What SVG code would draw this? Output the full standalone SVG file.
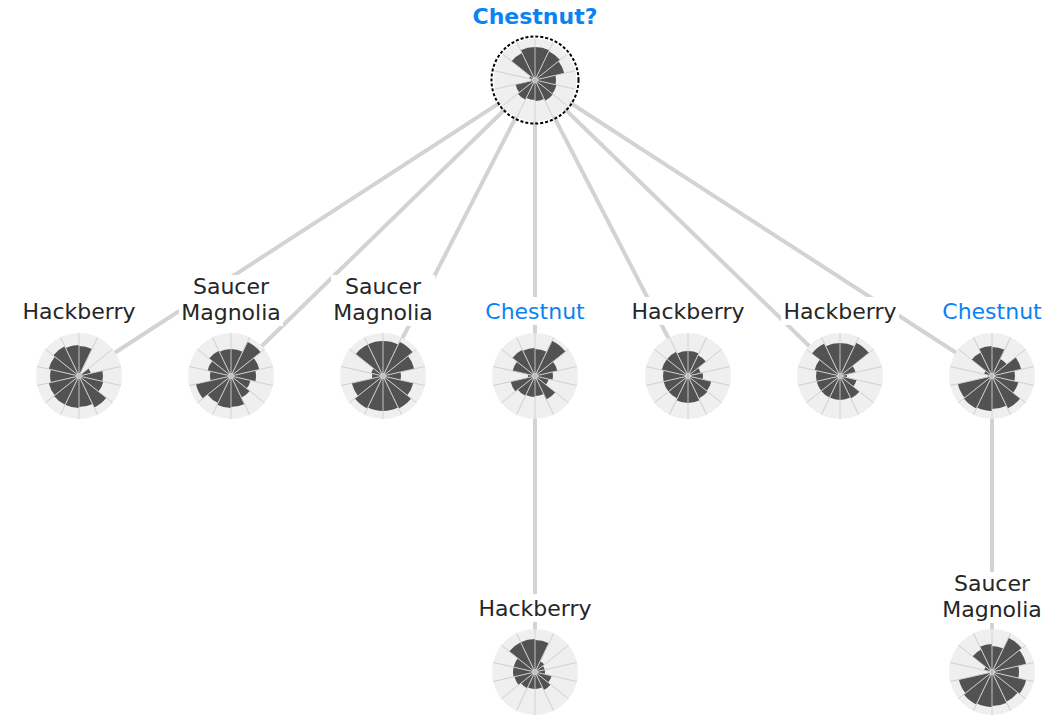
<svg xmlns="http://www.w3.org/2000/svg" xmlns:xlink="http://www.w3.org/1999/xlink" width="1049" height="726" viewBox="0 0 1049 726">
<style>
.lbl{font-family:"DejaVu Sans","Liberation Sans",sans-serif;font-size:22px;fill:#262626;text-anchor:middle}
.blue{fill:#0a82f5}
.bold{font-weight:bold}
.lb{fill:#ffffff}
.conn line{stroke:#d3d3d3;stroke-width:4;stroke-linecap:butt}
.bg{fill:#efefef}
.hub{fill:#bdbdbd;stroke:#d8d8d8;stroke-width:0.8}
.grid line{stroke:#cfcfcf;stroke-width:0.9}
.bar{fill:#525252}
.sel{fill:none;stroke:#000;stroke-width:2;stroke-dasharray:3 2}
</style>
<defs>
<path id="w" class="bar" d="M0,0 L0,-1 A1,1 0 0,1 0.43388,-0.90097 Z"/>
<g id="grid" class="grid">
<line x1="0" y1="-43" x2="0" y2="43"/>
<line x1="0" y1="-43" x2="0" y2="43" transform="rotate(25.714)"/>
<line x1="0" y1="-43" x2="0" y2="43" transform="rotate(51.429)"/>
<line x1="0" y1="-43" x2="0" y2="43" transform="rotate(77.143)"/>
<line x1="0" y1="-43" x2="0" y2="43" transform="rotate(102.857)"/>
<line x1="0" y1="-43" x2="0" y2="43" transform="rotate(128.571)"/>
<line x1="0" y1="-43" x2="0" y2="43" transform="rotate(154.286)"/>
</g>
</defs>
<rect width="1049" height="726" fill="#ffffff"/>
<g id="connectors" class="conn">
<line x1="535" y1="80" x2="79" y2="376"/>
<line x1="535" y1="80" x2="231" y2="376"/>
<line x1="535" y1="80" x2="383" y2="376"/>
<line x1="535" y1="80" x2="535" y2="376"/>
<line x1="535" y1="80" x2="688" y2="376"/>
<line x1="535" y1="80" x2="840" y2="376"/>
<line x1="535" y1="80" x2="992" y2="376"/>
<line x1="535" y1="376" x2="535" y2="672"/>
<line x1="992" y1="376" x2="992" y2="672"/>
</g>

<g id="node-root">
<text class="lbl blue bold" x="535" y="24">Chestnut?</text>
<g transform="translate(535,80)">
<circle class="bg" r="41.5"/>
<use xlink:href="#w" transform="rotate(0) scale(33)"/>
<use xlink:href="#w" transform="rotate(25.714) scale(32)"/>
<use xlink:href="#w" transform="rotate(51.429) scale(30)"/>
<use xlink:href="#w" transform="rotate(77.143) scale(21)"/>
<use xlink:href="#w" transform="rotate(102.857) scale(22)"/>
<use xlink:href="#w" transform="rotate(128.571) scale(23)"/>
<use xlink:href="#w" transform="rotate(154.286) scale(21)"/>
<use xlink:href="#w" transform="rotate(180) scale(20)"/>
<use xlink:href="#w" transform="rotate(205.714) scale(22)"/>
<use xlink:href="#w" transform="rotate(231.429) scale(20)"/>
<use xlink:href="#w" transform="rotate(257.143) scale(4)"/>
<use xlink:href="#w" transform="rotate(282.857) scale(6)"/>
<use xlink:href="#w" transform="rotate(308.571) scale(30)"/>
<use xlink:href="#w" transform="rotate(334.286) scale(33)"/>
<use xlink:href="#grid" transform="scale(0.965)"/>
<circle class="hub" r="2.5"/>
<circle class="sel" r="43.5"/>
</g>
</g>

<g id="node-hackberry-1">
<rect class="lb" x="20" y="297" width="118" height="28"/>
<text class="lbl" x="79" y="318.5">Hackberry</text>
<g transform="translate(79,376)">
<circle class="bg" r="43"/>
<use xlink:href="#w" transform="rotate(0) scale(30)"/>
<use xlink:href="#w" transform="rotate(25.714) scale(3)"/>
<use xlink:href="#w" transform="rotate(51.429) scale(12)"/>
<use xlink:href="#w" transform="rotate(77.143) scale(24)"/>
<use xlink:href="#w" transform="rotate(102.857) scale(25)"/>
<use xlink:href="#w" transform="rotate(128.571) scale(35)"/>
<use xlink:href="#w" transform="rotate(154.286) scale(31)"/>
<use xlink:href="#w" transform="rotate(180) scale(32)"/>
<use xlink:href="#w" transform="rotate(205.714) scale(32)"/>
<use xlink:href="#w" transform="rotate(231.429) scale(31)"/>
<use xlink:href="#w" transform="rotate(257.143) scale(29)"/>
<use xlink:href="#w" transform="rotate(282.857) scale(31)"/>
<use xlink:href="#w" transform="rotate(308.571) scale(33)"/>
<use xlink:href="#w" transform="rotate(334.286) scale(31)"/>
<use xlink:href="#grid"/>
<circle class="hub" r="2.5"/>
</g>
</g>

<g id="node-saucer-magnolia-1">
<rect class="lb" x="179" y="275" width="104" height="51"/>
<text class="lbl" x="231" y="293.5">Saucer</text>
<text class="lbl" x="231" y="319.5">Magnolia</text>
<g transform="translate(231,376)">
<circle class="bg" r="43"/>
<use xlink:href="#w" transform="rotate(0) scale(27)"/>
<use xlink:href="#w" transform="rotate(25.714) scale(38)"/>
<use xlink:href="#w" transform="rotate(51.429) scale(29)"/>
<use xlink:href="#w" transform="rotate(77.143) scale(25)"/>
<use xlink:href="#w" transform="rotate(102.857) scale(20)"/>
<use xlink:href="#w" transform="rotate(128.571) scale(24)"/>
<use xlink:href="#w" transform="rotate(154.286) scale(31)"/>
<use xlink:href="#w" transform="rotate(180) scale(32)"/>
<use xlink:href="#w" transform="rotate(205.714) scale(30)"/>
<use xlink:href="#w" transform="rotate(231.429) scale(36)"/>
<use xlink:href="#w" transform="rotate(257.143) scale(21)"/>
<use xlink:href="#w" transform="rotate(282.857) scale(24)"/>
<use xlink:href="#w" transform="rotate(308.571) scale(28)"/>
<use xlink:href="#w" transform="rotate(334.286) scale(27)"/>
<use xlink:href="#grid"/>
<circle class="hub" r="2.5"/>
</g>
</g>

<g id="node-saucer-magnolia-2">
<rect class="lb" x="331" y="275" width="104" height="51"/>
<text class="lbl" x="383" y="293.5">Saucer</text>
<text class="lbl" x="383" y="319.5">Magnolia</text>
<g transform="translate(383,376)">
<circle class="bg" r="43"/>
<use xlink:href="#w" transform="rotate(0) scale(35)"/>
<use xlink:href="#w" transform="rotate(25.714) scale(38)"/>
<use xlink:href="#w" transform="rotate(51.429) scale(32)"/>
<use xlink:href="#w" transform="rotate(77.143) scale(18)"/>
<use xlink:href="#w" transform="rotate(102.857) scale(31)"/>
<use xlink:href="#w" transform="rotate(128.571) scale(36)"/>
<use xlink:href="#w" transform="rotate(154.286) scale(35)"/>
<use xlink:href="#w" transform="rotate(180) scale(35)"/>
<use xlink:href="#w" transform="rotate(205.714) scale(36)"/>
<use xlink:href="#w" transform="rotate(231.429) scale(32)"/>
<use xlink:href="#w" transform="rotate(257.143) scale(11)"/>
<use xlink:href="#w" transform="rotate(282.857) scale(12)"/>
<use xlink:href="#w" transform="rotate(308.571) scale(35)"/>
<use xlink:href="#w" transform="rotate(334.286) scale(35)"/>
<use xlink:href="#grid"/>
<circle class="hub" r="2.5"/>
</g>
</g>

<g id="node-chestnut-1">
<rect class="lb" x="483" y="297" width="104" height="28"/>
<text class="lbl blue" x="535" y="318.5">Chestnut</text>
<g transform="translate(535,376)">
<circle class="bg" r="43"/>
<use xlink:href="#w" transform="rotate(0) scale(27)"/>
<use xlink:href="#w" transform="rotate(25.714) scale(39)"/>
<use xlink:href="#w" transform="rotate(51.429) scale(23)"/>
<use xlink:href="#w" transform="rotate(77.143) scale(18)"/>
<use xlink:href="#w" transform="rotate(102.857) scale(14)"/>
<use xlink:href="#w" transform="rotate(128.571) scale(26)"/>
<use xlink:href="#w" transform="rotate(154.286) scale(20)"/>
<use xlink:href="#w" transform="rotate(180) scale(21)"/>
<use xlink:href="#w" transform="rotate(205.714) scale(22)"/>
<use xlink:href="#w" transform="rotate(231.429) scale(25)"/>
<use xlink:href="#w" transform="rotate(257.143) scale(7)"/>
<use xlink:href="#w" transform="rotate(282.857) scale(23)"/>
<use xlink:href="#w" transform="rotate(308.571) scale(29)"/>
<use xlink:href="#w" transform="rotate(334.286) scale(28)"/>
<use xlink:href="#grid"/>
<circle class="hub" r="2.5"/>
</g>
</g>

<g id="node-hackberry-2">
<rect class="lb" x="629" y="297" width="118" height="28"/>
<text class="lbl" x="688" y="318.5">Hackberry</text>
<g transform="translate(688,376)">
<circle class="bg" r="43"/>
<use xlink:href="#w" transform="rotate(0) scale(25)"/>
<use xlink:href="#w" transform="rotate(25.714) scale(23)"/>
<use xlink:href="#w" transform="rotate(51.429) scale(13)"/>
<use xlink:href="#w" transform="rotate(77.143) scale(15)"/>
<use xlink:href="#w" transform="rotate(102.857) scale(24)"/>
<use xlink:href="#w" transform="rotate(128.571) scale(25)"/>
<use xlink:href="#w" transform="rotate(154.286) scale(27)"/>
<use xlink:href="#w" transform="rotate(180) scale(27)"/>
<use xlink:href="#w" transform="rotate(205.714) scale(25)"/>
<use xlink:href="#w" transform="rotate(231.429) scale(25)"/>
<use xlink:href="#w" transform="rotate(257.143) scale(25)"/>
<use xlink:href="#w" transform="rotate(282.857) scale(27)"/>
<use xlink:href="#w" transform="rotate(308.571) scale(27)"/>
<use xlink:href="#w" transform="rotate(334.286) scale(25)"/>
<use xlink:href="#grid"/>
<circle class="hub" r="2.5"/>
</g>
</g>

<g id="node-hackberry-3">
<rect class="lb" x="781" y="297" width="118" height="28"/>
<text class="lbl" x="840" y="318.5">Hackberry</text>
<g transform="translate(840,376)">
<circle class="bg" r="43"/>
<use xlink:href="#w" transform="rotate(0) scale(33)"/>
<use xlink:href="#w" transform="rotate(25.714) scale(37)"/>
<use xlink:href="#w" transform="rotate(51.429) scale(16)"/>
<use xlink:href="#w" transform="rotate(77.143) scale(7)"/>
<use xlink:href="#w" transform="rotate(102.857) scale(17)"/>
<use xlink:href="#w" transform="rotate(128.571) scale(25)"/>
<use xlink:href="#w" transform="rotate(154.286) scale(24)"/>
<use xlink:href="#w" transform="rotate(180) scale(24)"/>
<use xlink:href="#w" transform="rotate(205.714) scale(24)"/>
<use xlink:href="#w" transform="rotate(231.429) scale(24)"/>
<use xlink:href="#w" transform="rotate(257.143) scale(24)"/>
<use xlink:href="#w" transform="rotate(282.857) scale(26)"/>
<use xlink:href="#w" transform="rotate(308.571) scale(36)"/>
<use xlink:href="#w" transform="rotate(334.286) scale(33)"/>
<use xlink:href="#grid"/>
<circle class="hub" r="2.5"/>
</g>
</g>

<g id="node-chestnut-2">
<rect class="lb" x="940" y="297" width="104" height="28"/>
<text class="lbl blue" x="992" y="318.5">Chestnut</text>
<g transform="translate(992,376)">
<circle class="bg" r="43"/>
<use xlink:href="#w" transform="rotate(0) scale(29)"/>
<use xlink:href="#w" transform="rotate(25.714) scale(19)"/>
<use xlink:href="#w" transform="rotate(51.429) scale(30)"/>
<use xlink:href="#w" transform="rotate(77.143) scale(23)"/>
<use xlink:href="#w" transform="rotate(102.857) scale(27)"/>
<use xlink:href="#w" transform="rotate(128.571) scale(36)"/>
<use xlink:href="#w" transform="rotate(154.286) scale(33)"/>
<use xlink:href="#w" transform="rotate(180) scale(35)"/>
<use xlink:href="#w" transform="rotate(205.714) scale(36)"/>
<use xlink:href="#w" transform="rotate(231.429) scale(35)"/>
<use xlink:href="#w" transform="rotate(257.143) scale(4)"/>
<use xlink:href="#w" transform="rotate(282.857) scale(8)"/>
<use xlink:href="#w" transform="rotate(308.571) scale(26)"/>
<use xlink:href="#w" transform="rotate(334.286) scale(30)"/>
<use xlink:href="#grid"/>
<circle class="hub" r="2.5"/>
</g>
</g>

<g id="node-hackberry-4">
<rect class="lb" x="476" y="594" width="118" height="28"/>
<text class="lbl" x="535" y="615.5">Hackberry</text>
<g transform="translate(535,672)">
<circle class="bg" r="43"/>
<use xlink:href="#w" transform="rotate(0) scale(32)"/>
<use xlink:href="#w" transform="rotate(25.714) scale(12)"/>
<use xlink:href="#w" transform="rotate(51.429) scale(10)"/>
<use xlink:href="#w" transform="rotate(77.143) scale(10)"/>
<use xlink:href="#w" transform="rotate(102.857) scale(17)"/>
<use xlink:href="#w" transform="rotate(128.571) scale(20)"/>
<use xlink:href="#w" transform="rotate(154.286) scale(17)"/>
<use xlink:href="#w" transform="rotate(180) scale(17)"/>
<use xlink:href="#w" transform="rotate(205.714) scale(18)"/>
<use xlink:href="#w" transform="rotate(231.429) scale(21)"/>
<use xlink:href="#w" transform="rotate(257.143) scale(22)"/>
<use xlink:href="#w" transform="rotate(282.857) scale(22)"/>
<use xlink:href="#w" transform="rotate(308.571) scale(33)"/>
<use xlink:href="#w" transform="rotate(334.286) scale(33)"/>
<use xlink:href="#grid"/>
<circle class="hub" r="2.5"/>
</g>
</g>

<g id="node-saucer-magnolia-3">
<rect class="lb" x="940" y="572" width="104" height="51"/>
<text class="lbl" x="992" y="590.5">Saucer</text>
<text class="lbl" x="992" y="616.5">Magnolia</text>
<g transform="translate(992,672)">
<circle class="bg" r="43"/>
<use xlink:href="#w" transform="rotate(0) scale(26)"/>
<use xlink:href="#w" transform="rotate(25.714) scale(38)"/>
<use xlink:href="#w" transform="rotate(51.429) scale(35)"/>
<use xlink:href="#w" transform="rotate(77.143) scale(27)"/>
<use xlink:href="#w" transform="rotate(102.857) scale(35)"/>
<use xlink:href="#w" transform="rotate(128.571) scale(33)"/>
<use xlink:href="#w" transform="rotate(154.286) scale(34)"/>
<use xlink:href="#w" transform="rotate(180) scale(35)"/>
<use xlink:href="#w" transform="rotate(205.714) scale(36)"/>
<use xlink:href="#w" transform="rotate(231.429) scale(34)"/>
<use xlink:href="#w" transform="rotate(257.143) scale(3)"/>
<use xlink:href="#w" transform="rotate(282.857) scale(8)"/>
<use xlink:href="#w" transform="rotate(308.571) scale(25)"/>
<use xlink:href="#w" transform="rotate(334.286) scale(28)"/>
<use xlink:href="#grid"/>
<circle class="hub" r="2.5"/>
</g>
</g>
</svg>
